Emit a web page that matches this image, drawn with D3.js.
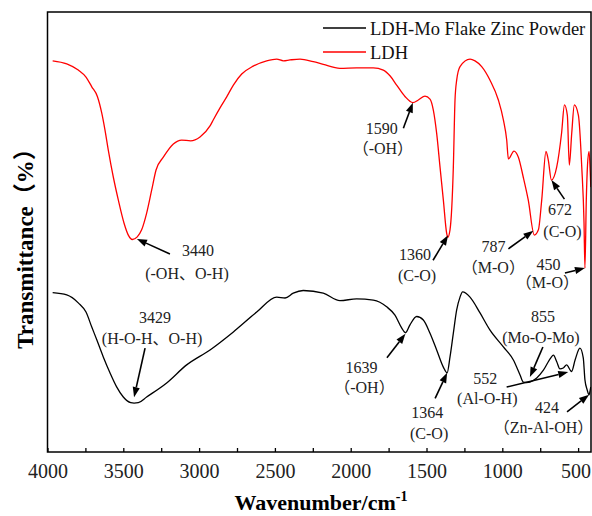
<!DOCTYPE html>
<html>
<head>
<meta charset="utf-8">
<script src="https://cdn.jsdelivr.net/npm/d3@7"></script>
<style>
  html, body { margin: 0; padding: 0; background: #fff; }
  svg { display: block; }
</style>
</head>
<body>
<svg id="chart" width="592" height="516"></svg>
<script>
// FTIR spectra: LDH and LDH-Mo flake zinc powder (transmittance, arbitrary units)
const ldhWavenumber = [3966, 3873, 3797, 3746, 3708, 3671, 3642, 3621, 3599, 3566, 3533, 3495, 3467, 3440, 3408, 3379, 3346, 3313, 3284, 3236, 3170, 3115, 3056, 2994, 2928, 2906, 2862, 2818, 2774, 2719, 2643, 2554, 2488, 2444, 2401, 2334, 2247, 2181, 2071, 1961, 1851, 1785, 1741, 1697, 1642, 1590, 1554, 1510, 1477, 1455, 1433, 1411, 1389, 1367, 1360, 1345, 1323, 1312, 1301, 1279, 1213, 1180, 1136, 1081, 1026, 993, 971, 960, 923, 894, 862, 829, 789, 762, 740, 712, 697, 676, 641, 609, 590, 571, 558, 542, 525, 498, 476, 461, 455, 446, 438, 428, 420, 416];
const ldhTransmittance = [88.9, 88.2, 86.8, 85.2, 83.0, 80.8, 77.0, 73.2, 68.6, 62.5, 57.3, 52.0, 49.3, 48.3, 48.9, 50.5, 54.3, 59.5, 64.1, 67.0, 70.0, 70.9, 70.7, 71.6, 74.1, 75.5, 78.2, 80.7, 83.4, 85.9, 87.7, 88.9, 89.3, 88.9, 89.1, 89.3, 88.7, 88.1, 87.2, 87.3, 87.3, 86.8, 85.5, 83.4, 80.8, 79.4, 80.0, 80.9, 80.2, 77.7, 72.4, 64.8, 57.3, 49.7, 48.8, 50.5, 64.8, 80.0, 84.5, 87.6, 89.3, 88.9, 87.6, 84.5, 80.0, 75.5, 70.9, 66.6, 68.4, 67.0, 62.5, 57.3, 49.3, 50.5, 57.3, 68.3, 66.4, 61.8, 64.8, 72.5, 78.9, 76.5, 65.2, 72.5, 78.9, 76.5, 64.8, 52.0, 41.8, 57.3, 65.2, 68.3, 63.6, 60.2];

const moWavenumber = [3966, 3873, 3797, 3746, 3708, 3675, 3632, 3588, 3544, 3500, 3451, 3429, 3401, 3346, 3214, 3082, 2928, 2774, 2620, 2488, 2433, 2379, 2313, 2181, 2071, 1961, 1851, 1763, 1708, 1664, 1639, 1609, 1565, 1521, 1477, 1433, 1389, 1364, 1345, 1323, 1301, 1279, 1262, 1213, 1147, 1081, 993, 927, 883, 862, 840, 818, 773, 729, 680, 663, 641, 620, 598, 576, 543, 520, 488, 466, 455, 440, 428, 420, 416];
const moTransmittance = [36.2, 35.7, 33.9, 31.8, 28.4, 25.5, 21.6, 18.0, 14.8, 12.5, 11.2, 11.1, 11.2, 12.5, 15.7, 19.8, 23.2, 27.3, 31.8, 35.2, 35.0, 36.1, 36.7, 36.1, 34.4, 34.8, 34.5, 33.0, 31.1, 28.2, 27.1, 28.9, 30.8, 30.0, 27.0, 23.2, 19.3, 18.0, 21.6, 27.0, 32.3, 35.2, 36.4, 35.2, 31.6, 27.7, 23.9, 20.9, 17.5, 15.9, 15.8, 15.9, 16.8, 18.6, 21.4, 22.0, 20.5, 18.9, 19.1, 19.8, 18.3, 20.9, 23.6, 21.4, 16.4, 14.1, 13.0, 14.1, 14.8];

const seriesNames = ["LDH-Mo Flake Zinc Powder", "LDH"];
const seriesColors = ["#000000", "#ff0000"];

const xTickValues = [4000, 3500, 3000, 2500, 2000, 1500, 1000, 500];
const xMinorStep = 250;
const xDomain = [4000, 415];

// Peak assignments: series index, wavenumber label, group assignment
const peakLabels = [
  { series: 1, label: "3440", group: "(-OH、O-H)" },
  { series: 1, label: "1590", group: "（-OH）" },
  { series: 1, label: "1360", group: "(C-O)" },
  { series: 1, label: "787",  group: "（M-O）" },
  { series: 1, label: "672",  group: "(C-O)" },
  { series: 1, label: "450",  group: "（M-O）" },
  { series: 0, label: "3429", group: "(H-O-H、O-H)" },
  { series: 0, label: "1639", group: "（-OH）" },
  { series: 0, label: "1364", group: "(C-O)" },
  { series: 0, label: "855",  group: "(Mo-O-Mo)" },
  { series: 0, label: "552",  group: "(Al-O-H)" },
  { series: 0, label: "424",  group: "（Zn-Al-OH）" }
];

// Callout layout: where the arrow tip sits on the curve, and offsets (px) of tail and text from the tip
const calloutLayout = [
  { tipWn: 3410, tipDy: 2,  tail: [33, 15],   num: [61, 17],   grp: [50, 40] },
  { tipWn: 1590, tipDy: 0,  tail: [-9.5, 25.6], num: [-31, 31], grp: [-30, 51] },
  { tipWn: 1358, tipDy: -1, tail: [-15, 25],  num: [-33, 25],  grp: [-31, 46] },
  { tipWn: 795,  tipDy: 1,  tail: [-25, 18],  num: [-40, 21],  grp: [-40, 42] },
  { tipWn: 676,  tipDy: 0,  tail: [13, 19],   num: [8.5, 35],  grp: [11, 57] },
  { tipWn: 455,  tipDy: 0,  tail: [-20, 5],   num: [-36.5, 2], grp: [-37.5, 20] },
  { tipWn: 3429, tipDy: -6, tail: [11, -49],  num: [21, -74],  grp: [18, -53] },
  { tipWn: 1639, tipDy: 1,  tail: [-18.5, 24], num: [-44, 39], grp: [-41, 59] },
  { tipWn: 1364, tipDy: 0,  tail: [-12, 25.6], num: [-20, 45], grp: [-18, 66] },
  { tipWn: 818,  tipDy: -5, tail: [13, -30],  num: [13, -55],  grp: [11, -34.5] },
  { tipWn: 565,  tipDy: 5,  tail: [-61.6, 15], num: [-83, 12], grp: [-81, 32] },
  { tipWn: 428,  tipDy: 0,  tail: [-22, 17],  num: [-42, 18],  grp: [-45.5, 38] }
];

const serif = "'Liberation Serif', 'Times New Roman', 'Noto Sans CJK SC', serif";

const svg = d3.select("#chart");
const plot = { left: 47.5, right: 591, top: 12, bottom: 452 };

const x = d3.scaleLinear().domain(xDomain).range([plot.left, plot.right]);
const y = d3.scaleLinear().domain([0, 100]).range([plot.bottom, plot.top]);

const series = [
  d3.zip(moWavenumber, moTransmittance),
  d3.zip(ldhWavenumber, ldhTransmittance)
];

// spectra
const line = d3.line()
  .x(d => x(d[0]))
  .y(d => y(d[1]))
  .curve(d3.curveMonotoneX);

svg.append("clipPath").attr("id", "plot-clip")
  .append("rect")
  .attr("x", plot.left).attr("y", plot.top)
  .attr("width", plot.right - plot.left).attr("height", plot.bottom - plot.top);

svg.append("g").attr("clip-path", "url(#plot-clip)")
  .selectAll("path.spectrum")
  .data(series)
  .join("path")
  .attr("class", "spectrum")
  .attr("d", line)
  .attr("fill", "none")
  .attr("stroke", (d, i) => seriesColors[i])
  .attr("stroke-width", 1.3)
  .attr("stroke-linejoin", "round");

// frame
svg.append("rect")
  .attr("x", plot.left).attr("y", plot.top)
  .attr("width", plot.right - plot.left).attr("height", plot.bottom - plot.top)
  .attr("fill", "none").attr("stroke", "#000").attr("stroke-width", 1.5);

// bottom axis with inward ticks
const allTicks = d3.range(xDomain[0], 499, -xMinorStep);
const xAxis = d3.axisBottom(x)
  .tickValues(allTicks)
  .tickSize(-4)
  .tickPadding(12)
  .tickFormat(d => xTickValues.includes(d) ? d : "");
const gx = svg.append("g")
  .attr("transform", `translate(0,${plot.bottom})`)
  .call(xAxis);
gx.select(".domain").remove();
gx.selectAll(".tick line").attr("stroke", "#000").attr("stroke-width", 1.3);
gx.selectAll(".tick text")
  .attr("font-family", serif)
  .attr("font-size", 20)
  .attr("fill", "#222");
// keep the last label inside the right edge
gx.selectAll(".tick text").filter(d => d === 500).attr("dx", -2.5);

// axis titles
const xt = svg.append("text")
  .attr("x", 321).attr("y", 510)
  .attr("text-anchor", "middle")
  .attr("font-family", serif)
  .attr("font-weight", "bold")
  .attr("font-size", 22)
  .attr("fill", "#000");
xt.append("tspan").text("Wavenumber/cm");
xt.append("tspan").attr("dy", -9).attr("font-size", 14).text("-1");

svg.append("text")
  .attr("transform", "translate(33,243) rotate(-90)")
  .attr("text-anchor", "middle")
  .attr("font-family", serif)
  .attr("font-weight", "bold")
  .attr("font-size", 23)
  .attr("fill", "#000")
  .text("Transmittance（%）");

// legend
const legend = svg.append("g").attr("transform", "translate(323,28)");
seriesNames.forEach((name, i) => {
  const row = legend.append("g").attr("transform", `translate(0,${i * 24})`);
  row.append("line")
    .attr("x1", 0).attr("x2", 43).attr("y1", 0).attr("y2", 0)
    .attr("stroke", seriesColors[i]).attr("stroke-width", 1.3);
  row.append("text")
    .attr("x", 47).attr("y", 7)
    .attr("font-family", serif)
    .attr("font-size", 18.5)
    .attr("fill", "#111")
    .text(name);
});

// peak callouts
function valueAt(data, wn) {
  for (let i = 0; i < data.length - 1; i++) {
    const [w0, v0] = data[i], [w1, v1] = data[i + 1];
    if (wn <= w0 && wn >= w1) {
      const t = (w0 - wn) / (w0 - w1);
      return v0 + t * (v1 - v0);
    }
  }
  return data[data.length - 1][1];
}

const callouts = svg.append("g").attr("class", "callouts");
peakLabels.forEach((p, i) => {
  const L = calloutLayout[i];
  const tx = x(L.tipWn);
  const ty = y(valueAt(series[p.series], L.tipWn)) + L.tipDy;
  const sx = tx + L.tail[0], sy = ty + L.tail[1];
  const ang = Math.atan2(ty - sy, tx - sx);
  const headLen = 10, headHalf = 3.6;
  const bx = tx - headLen * Math.cos(ang), by = ty - headLen * Math.sin(ang);
  const g = callouts.append("g");
  g.append("line")
    .attr("x1", sx).attr("y1", sy).attr("x2", bx).attr("y2", by)
    .attr("stroke", "#000").attr("stroke-width", 1.6);
  g.append("path")
    .attr("d", `M${tx},${ty}L${bx - headHalf * Math.sin(ang)},${by + headHalf * Math.cos(ang)}L${bx + headHalf * Math.sin(ang)},${by - headHalf * Math.cos(ang)}Z`)
    .attr("fill", "#000");
  g.append("text")
    .attr("x", tx + L.num[0]).attr("y", ty + L.num[1])
    .attr("text-anchor", "middle")
    .attr("font-family", serif).attr("font-size", 16).attr("fill", "#222")
    .text(p.label);
  g.append("text")
    .attr("x", tx + L.grp[0]).attr("y", ty + L.grp[1])
    .attr("text-anchor", "middle")
    .attr("font-family", serif).attr("font-size", 16).attr("fill", "#222")
    .text(p.group);
});
</script>
</body>
</html>
